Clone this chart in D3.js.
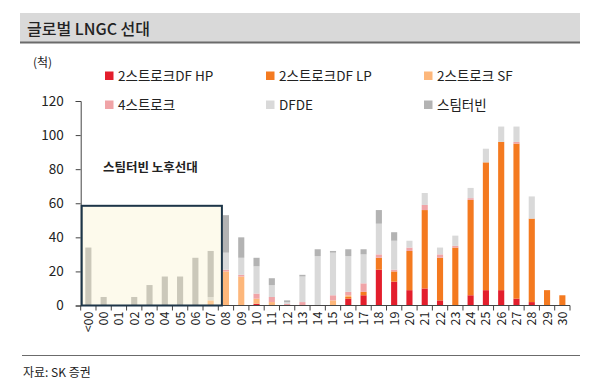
<!DOCTYPE html>
<html>
<head>
<meta charset="utf-8">
<script src="https://cdn.jsdelivr.net/npm/d3@7"></script>
<style>
  body { margin: 0; background: #fff; }
  text { font-family: "Noto Sans CJK KR", "Noto Sans", sans-serif; fill: #222; }
</style>
</head>
<body>
<script>
// categories (build year)
const years = ["<00", "00", "01", "02", "03", "04", "05", "06", "07", "08", "09",
  "10", "11", "12", "13", "14", "15", "16", "17", "18", "19", "20",
  "21", "22", "23", "24", "25", "26", "27", "28", "29", "30"];

// series values (vessels)
const hp    = [0, 0, 0, 0, 0, 0, 0, 0, 0, 0, 0, 1, 0, 0, 0, 0, 0, 4, 6, 21, 14, 9, 10, 3, 0, 6, 9, 9, 4, 2, 0, 0];
const lp    = [0, 0, 0, 0, 0, 0, 0, 0, 0, 0, 0, 0, 0, 0, 0, 0, 0, 1, 2, 7, 6, 23, 46, 25, 34, 56, 75, 87, 91, 49, 9, 6];
const sf    = [0, 0, 0, 0, 0, 0, 0, 0, 3, 20, 17, 3, 2, 0, 0, 0, 3, 1, 0, 0, 0, 0, 0, 0, 0, 0, 0, 0, 0, 0, 0, 0];
const four  = [0, 0, 0, 0, 0, 0, 0, 0, 0, 1, 1, 3, 3, 1, 2, 0, 3, 2, 5, 2, 1, 2, 3, 2, 1, 1, 0, 0, 1, 0, 0, 0];
const dfde  = [0, 0, 0, 0, 0, 0, 0, 0, 2, 10, 10, 16, 7, 1, 15, 29, 25, 21, 17, 18, 17, 4, 7, 4, 6, 6, 8, 9, 9, 13, 0, 0];
const steam = [34, 5, 0, 5, 12, 17, 17, 28, 27, 22, 12, 5, 4, 1, 1, 4, 1, 4, 3, 8, 5, 0, 0, 0, 0, 0, 0, 0, 0, 0, 0, 0];

const keys = ["hp", "lp", "sf", "four", "dfde", "steam"];
const names = {
  hp: "2스트로크DF HP", lp: "2스트로크DF LP", sf: "2스트로크 SF",
  four: "4스트로크", dfde: "DFDE", steam: "스팀터빈"
};
const colors = {
  hp: "#e31e2c", lp: "#f47a20", sf: "#fdb77b",
  four: "#f0a4a7", dfde: "#d9d9d9", steam: "#b3b3b3"
};
const yTicks = [0, 20, 40, 60, 80, 100, 120];

const rows = years.map((yr, i) => ({
  year: yr, hp: hp[i], lp: lp[i], sf: sf[i], four: four[i], dfde: dfde[i], steam: steam[i]
}));

const W = 600, H = 389;
const svg = d3.select("body").append("svg")
  .attr("width", W)
  .attr("height", H);

svg.append("rect").attr("width", W).attr("height", H).attr("fill", "#fff");

// title band
svg.append("rect")
  .attr("x", 20).attr("y", 13)
  .attr("width", 560).attr("height", 29)
  .attr("fill", "#d9d9d9");
svg.append("line")
  .attr("x1", 20).attr("x2", 580)
  .attr("y1", 42.5).attr("y2", 42.5)
  .attr("stroke", "#6b6b6b").attr("stroke-width", 2);
svg.append("text")
  .attr("x", 27).attr("y", 35)
  .style("font-size", "16px")
  .style("font-weight", 500)
  .text("글로벌 LNGC 선대");

// source line
svg.append("line")
  .attr("x1", 22).attr("x2", 580)
  .attr("y1", 355.5).attr("y2", 355.5)
  .attr("stroke", "#6b6b6b").attr("stroke-width", 1.2);
svg.append("text")
  .attr("x", 23).attr("y", 377)
  .style("font-size", "12px")
  .text("자료: SK 증권");

// unit
svg.append("text")
  .attr("x", 33).attr("y", 67)
  .style("font-size", "12px")
  .text("(척)");

// scales
const x = d3.scaleBand()
  .domain(years)
  .range([80.7, 570])
  .paddingInner(0.6)
  .paddingOuter(0.3);

const y = d3.scaleLinear()
  .domain([0, 120])
  .range([305.5, 101]);

// bars
const series = d3.stack().keys(keys)(rows);

svg.append("g")
  .selectAll("g")
  .data(series)
  .join("g")
  .attr("fill", (d) => colors[d.key])
  .selectAll("rect")
  .data((d) => d)
  .join("rect")
  .attr("x", (d) => x(d.data.year))
  .attr("width", x.bandwidth())
  .attr("y", (d) => y(d[1]))
  .attr("height", (d) => y(d[0]) - y(d[1]));

// y axis
const yAxis = svg.append("g")
  .attr("transform", "translate(80.7,0)")
  .call(d3.axisLeft(y).tickValues(yTicks).tickSize(5).tickPadding(12));
yAxis.selectAll("path, line").attr("stroke", "#444");
yAxis.selectAll("text")
  .style("font-size", "13.5px")
  .style("font-family", "\"Noto Sans CJK KR\", sans-serif")
  .attr("fill", "#222");

// x axis: domain line + ticks on band boundaries
const step = x.step();
const edges = years.map((d) => x(d) - step * 0.3).concat([x.range()[1]]);
const xg = svg.append("g");
xg.append("line")
  .attr("x1", x.range()[0]).attr("x2", x.range()[1])
  .attr("y1", y(0)).attr("y2", y(0))
  .attr("stroke", "#444");
xg.selectAll(".tick")
  .data(edges)
  .join("line")
  .attr("x1", (d) => d).attr("x2", (d) => d)
  .attr("y1", y(0)).attr("y2", y(0) + 5)
  .attr("stroke", "#444");
xg.selectAll(".lbl")
  .data(years)
  .join("text")
  .attr("transform", (d) => `translate(${x(d) + x.bandwidth() / 2 + 4.5},${y(0) + 6}) rotate(-90)`)
  .attr("text-anchor", "end")
  .style("font-size", "12.5px")
  .text((d) => d);

// old steam-turbine fleet overlay box
svg.append("rect")
  .attr("x", x.range()[0] + 1)
  .attr("y", y(58.5))
  .attr("width", x("08") - 1 - x.range()[0] - 1)
  .attr("height", y(0) - y(58.5))
  .attr("fill", "#f9efc6")
  .attr("fill-opacity", 0.34)
  .attr("stroke", "#1d3548")
  .attr("stroke-width", 2);

svg.append("text")
  .attr("x", 103).attr("y", 172)
  .style("font-size", "12.5px")
  .style("font-weight", 700)
  .text("스팀터빈 노후선대");

// legend
const legendPos = [
  { k: "hp", x: 105, y: 76 }, { k: "lp", x: 266, y: 76 }, { k: "sf", x: 424, y: 76 },
  { k: "four", x: 105, y: 105 }, { k: "dfde", x: 266, y: 105 }, { k: "steam", x: 424, y: 105 }
];
const lg = svg.append("g")
  .selectAll("g")
  .data(legendPos)
  .join("g")
  .attr("transform", (d) => `translate(${d.x},${d.y})`);
lg.append("rect")
  .attr("x", 0).attr("y", -4.5)
  .attr("width", 8.5).attr("height", 8.5)
  .attr("fill", (d) => colors[d.k]);
lg.append("text")
  .attr("x", 13).attr("y", 5)
  .style("font-size", "13.5px")
  .text((d) => names[d.k]);
</script>
</body>
</html>
